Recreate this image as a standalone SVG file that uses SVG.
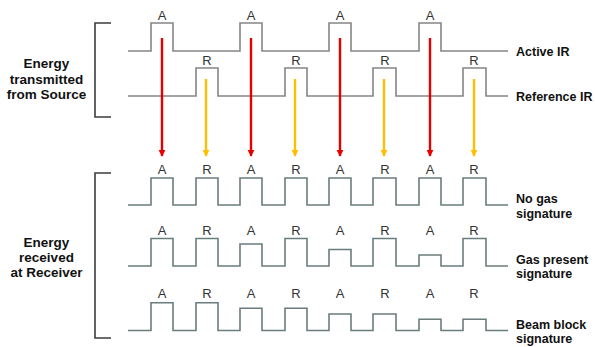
<svg xmlns="http://www.w3.org/2000/svg" width="595" height="347" viewBox="0 0 595 347">
<defs>
<style>
.wave{fill:none;stroke:#858585;stroke-width:1.6}
.wave2{fill:none;stroke:#6a7c7c;stroke-width:1.6}
.br{fill:none;stroke:#3c3c3c;stroke-width:1.6}
.lbl{font-family:"Liberation Sans",Arial,sans-serif;font-size:13px;fill:#333;text-anchor:middle}
.side{font-family:"Liberation Sans",Arial,sans-serif;font-size:12.5px;font-weight:bold;fill:#111}
.left{font-family:"Liberation Sans",Arial,sans-serif;font-size:13.5px;font-weight:bold;fill:#111;text-anchor:middle}
.red{stroke:#e60000;stroke-width:2.4;marker-end:url(#hr)}
.org{stroke:#ffbf00;stroke-width:2.4;marker-end:url(#ho)}
</style>
<marker id="hr" viewBox="0 0 10 10" refX="9" refY="5" markerWidth="3" markerHeight="3" orient="auto"><path d="M0,0 L10,5 L0,10 Z" fill="#e60000"/></marker>
<marker id="ho" viewBox="0 0 10 10" refX="9" refY="5" markerWidth="3" markerHeight="3" orient="auto"><path d="M0,0 L10,5 L0,10 Z" fill="#ffbf00"/></marker>
</defs>
<rect width="595" height="347" fill="#fff"/>

<g id="bracket-source"><path class="br" d="M111,23 H95 V117 H111"/></g>
<g id="label-source"><text class="left" x="46.5" y="68">Energy</text><text class="left" x="46.5" y="83.5">transmitted</text><text class="left" x="46.5" y="99">from Source</text></g>

<g id="active-ir">
<path class="wave" d="M128,51 H151 V23 H173 V51 H240 V23 H262 V51 H329 V23 H351 V51 H419 V23 H441 V51 H508"/>
<text class="lbl" x="162" y="20">A</text><text class="lbl" x="251" y="20">A</text><text class="lbl" x="340" y="20">A</text><text class="lbl" x="430" y="20">A</text>
<text class="side" x="516" y="55.5">Active IR</text>
</g>
<g id="reference-ir">
<path class="wave" d="M128,96 H196 V68 H218 V96 H285 V68 H307 V96 H373 V68 H396 V96 H463 V68 H486 V96 H508"/>
<text class="lbl" x="207" y="65">R</text><text class="lbl" x="296" y="65">R</text><text class="lbl" x="385" y="65">R</text><text class="lbl" x="474" y="65">R</text>
<text class="side" x="516" y="100.5">Reference IR</text>
</g>

<g id="connectors">
<line class="red" x1="162" y1="38" x2="162" y2="156"/>
<line class="red" x1="251" y1="38" x2="251" y2="156"/>
<line class="red" x1="340" y1="38" x2="340" y2="156"/>
<line class="red" x1="430" y1="38" x2="430" y2="156"/>
<line class="org" x1="206" y1="79" x2="206" y2="156"/>
<line class="org" x1="295" y1="79" x2="295" y2="156"/>
<line class="org" x1="384" y1="79" x2="384" y2="156"/>
<line class="org" x1="474" y1="79" x2="474" y2="156"/>
</g>

<g id="bracket-receiver"><path class="br" d="M111,173 H95 V338 H111"/></g>
<g id="label-receiver"><text class="left" x="46.5" y="247">Energy</text><text class="left" x="46.5" y="262">received</text><text class="left" x="46.5" y="277">at Receiver</text></g>

<g id="no-gas">
<path class="wave2" d="M128,205 H151 V178 H173 V205 H196 V178 H218 V205 H240 V178 H262 V205 H285 V178 H307 V205 H329 V178 H351 V205 H373 V178 H396 V205 H419 V178 H441 V205 H463 V178 H486 V205 H508"/>
<text class="lbl" x="162" y="174">A</text><text class="lbl" x="207" y="174">R</text><text class="lbl" x="251" y="174">A</text><text class="lbl" x="296" y="174">R</text><text class="lbl" x="340" y="174">A</text><text class="lbl" x="385" y="174">R</text><text class="lbl" x="430" y="174">A</text><text class="lbl" x="474" y="174">R</text>
<text class="side" x="516" y="202.5">No gas</text><text class="side" x="516" y="217.5">signature</text>
</g>

<g id="gas-present">
<path class="wave2" d="M128,266 H151 V238.5 H173 V266 H196 V238.5 H218 V266 H240 V244 H262 V266 H285 V238.5 H307 V266 H329 V249.5 H351 V266 H373 V238.5 H396 V266 H419 V255 H441 V266 H463 V238.5 H486 V266 H508"/>
<text class="lbl" x="162" y="235">A</text><text class="lbl" x="207" y="235">R</text><text class="lbl" x="251" y="235">A</text><text class="lbl" x="296" y="235">R</text><text class="lbl" x="340" y="235">A</text><text class="lbl" x="385" y="235">R</text><text class="lbl" x="430" y="235">A</text><text class="lbl" x="474" y="235">R</text>
<text class="side" x="516" y="263.5">Gas present</text><text class="side" x="516" y="278">signature</text>
</g>

<g id="beam-block">
<path class="wave2" d="M128,330.5 H151 V302.7 H173 V330.5 H196 V302.7 H218 V330.5 H240 V308.3 H262 V330.5 H285 V308.3 H307 V330.5 H329 V314 H351 V330.5 H373 V314 H396 V330.5 H419 V319.3 H441 V330.5 H463 V319.3 H486 V330.5 H508"/>
<text class="lbl" x="162" y="298">A</text><text class="lbl" x="207" y="298">R</text><text class="lbl" x="251" y="298">A</text><text class="lbl" x="296" y="298">R</text><text class="lbl" x="340" y="298">A</text><text class="lbl" x="385" y="298">R</text><text class="lbl" x="430" y="298">A</text><text class="lbl" x="474" y="298">R</text>
<text class="side" x="516" y="328.5">Beam block</text><text class="side" x="516" y="343">signature</text>
</g>
</svg>
